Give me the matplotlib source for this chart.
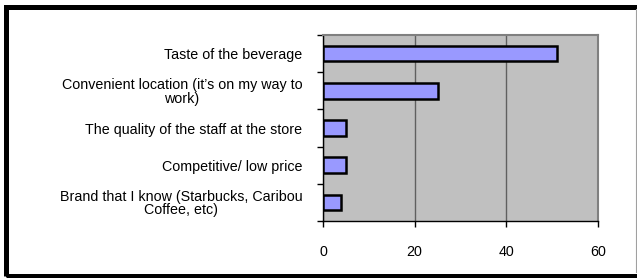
import matplotlib
matplotlib.use("Agg")
import matplotlib.pyplot as plt
from matplotlib.patches import Rectangle
from matplotlib.lines import Line2D

categories = [
    "Taste of the beverage",
    "Convenient location (it\u2019s on my way to\nwork)",
    "The quality of the staff at the store",
    "Competitive/ low price",
    "Brand that I know (Starbucks, Caribou\nCoffee, etc)",
]
values = [51, 25, 5, 5, 4]
xticks = [0, 20, 40, 60]

plt.rcParams['font.family'] = ['Liberation Sans', 'DejaVu Sans']

W, H = 637, 278
fig = plt.figure(figsize=(W / 100, H / 100), dpi=100)
fig.patch.set_facecolor('white')

# outer border (thick black frame, right edge cropped)
x0, y0t, y0b, x1 = 5.5, 6.5, 275.5, 640
fig.patches.append(Rectangle((x0 / W, 1 - y0b / H), (x1 - x0) / W, (y0b - y0t) / H,
                             transform=fig.transFigure, fill=False,
                             edgecolor='black', linewidth=3.6))
fig.lines.append(Line2D([635.5 / W, 635.5 / W], [1 - 272 / H, 1 - 9 / H],
                        transform=fig.transFigure, color='#A0A0A0', linewidth=0.8))

left, right, top, bottom = 323, 598, 35, 221
ax = fig.add_axes([left / W, 1 - bottom / H, (right - left) / W, (bottom - top) / H])
ax.set_facecolor('#C0C0C0')

n = len(categories)
pos = list(range(n))
ax.barh(pos, values, height=0.42, color='#9999FF', edgecolor='black', linewidth=1.8, zorder=3)

ax.set_ylim(n - 0.5, -0.5)
ax.set_xlim(0, 60)
ax.set_xticks(xticks)
ax.set_xticklabels([str(t) for t in xticks], fontsize=10.3)
ax.tick_params(axis='x', length=4, width=1, direction='out', pad=13)

ax.set_yticks([p - 0.5 for p in pos] + [n - 0.5])
ax.set_yticklabels([])
ax.set_yticks(pos, minor=True)
ax.set_yticklabels(categories, minor=True, fontsize=10.3, ha='right',
                   multialignment='center', linespacing=0.95)
ax.tick_params(axis='y', which='major', length=4, width=1, direction='out')
ax.tick_params(axis='y', which='minor', length=0, pad=15)

ax.xaxis.grid(True, color='#606060', linewidth=1, zorder=1)
ax.set_axisbelow(True)

for s in ['top', 'right']:
    ax.spines[s].set_color('#808080')
    ax.spines[s].set_linewidth(1.5)
for s in ['left', 'bottom']:
    ax.spines[s].set_color('black')
    ax.spines[s].set_linewidth(1)

fig.savefig('out.png', dpi=100)
